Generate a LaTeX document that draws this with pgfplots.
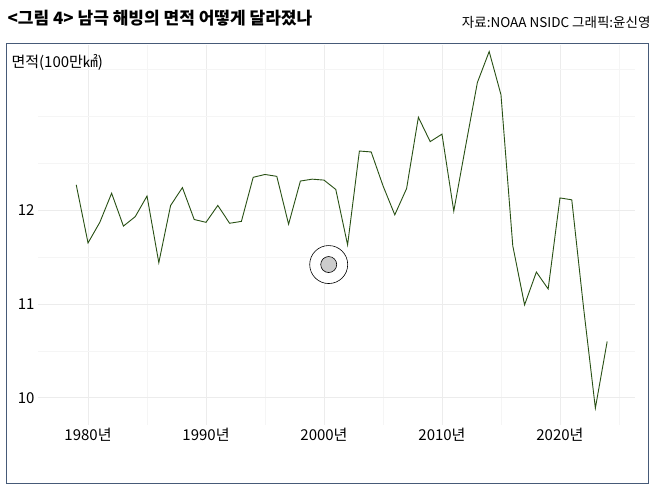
\documentclass[border=0pt]{standalone}
\usepackage{pgfplots}
\pgfplotsset{compat=1.18}
\usepackage{fontspec}
\setmainfont{Noto Sans CJK KR}
\begin{document}
\begin{tikzpicture}[x=1pt,y=1pt]
\path[fill=white] (0,0) rectangle (658,494);
\draw[color={rgb,255:red,70;green,90;blue,120},line width=0.8pt] (6,11) rectangle (648,451);
\node[anchor=west,font=\fontsize{17}{20}\selectfont\bfseries] at (4,476) {<그림 4> 남극 해빙의 면적 어떻게 달라졌나};
\node[anchor=east,font=\fontsize{13.5}{16}\selectfont] at (654,472) {자료:NOAA NSIDC 그래픽:윤신영};
\begin{axis}[at={(38pt,69pt)},anchor=south west,scale only axis,width=597pt,height=380pt,
  xmin=1975.76,xmax=2026.36,ymin=9.71,ymax=13.76,
  axis line style={draw=none},tick style={draw=none},
  xtick={1980,1990,2000,2010,2020},
  xticklabels={1980년,1990년,2000년,2010년,2020년},
  minor xtick={1985,1995,2005,2015,2025},
  ytick={10,11,12},
  minor ytick={10.5,11.5,12.5,13,13.5},
  xmajorgrids,xminorgrids,ymajorgrids,yminorgrids,
  major grid style={gray!15,line width=0.8pt},
  minor grid style={gray!8,line width=0.6pt},
  /pgf/number format/assume math mode=true,
  ticklabel style={font=\fontsize{15}{18}\selectfont},
  ]
\addplot[color={rgb,255:red,40;green,80;blue,20},line width=0.9pt] coordinates {
(1979,12.27)(1980,11.65)(1981,11.87)(1982,12.18)(1983,11.83)(1984,11.93)(1985,12.15)
(1986,11.44)(1987,12.05)(1988,12.24)(1989,11.90)(1990,11.87)(1991,12.05)(1992,11.86)
(1993,11.88)(1994,12.35)(1995,12.38)(1996,12.36)(1997,11.85)(1998,12.31)(1999,12.33)
(2000,12.32)(2001,12.22)(2002,11.63)(2003,12.63)(2004,12.62)(2005,12.26)(2006,11.95)
(2007,12.23)(2008,12.99)(2009,12.73)(2010,12.81)(2011,11.99)(2012,12.68)(2013,13.36)
(2014,13.69)(2015,13.23)(2016,11.62)(2017,10.99)(2018,11.34)(2019,11.16)(2020,12.13)
(2021,12.11)(2022,10.96)(2023,9.89)(2024,10.60)};
\addplot[only marks,mark=*,mark size=19pt,mark options={fill=white,draw=black,line width=0.6pt}] coordinates {(2000.4,11.42)};
\addplot[only marks,mark=*,mark size=8pt,mark options={fill=gray!40,draw=black,line width=0.6pt}] coordinates {(2000.4,11.42)};
\end{axis}
\node[anchor=west,font=\fontsize{15}{18}\selectfont] at (8,432) {면적(100만㎢)};
\end{tikzpicture}
\end{document}
